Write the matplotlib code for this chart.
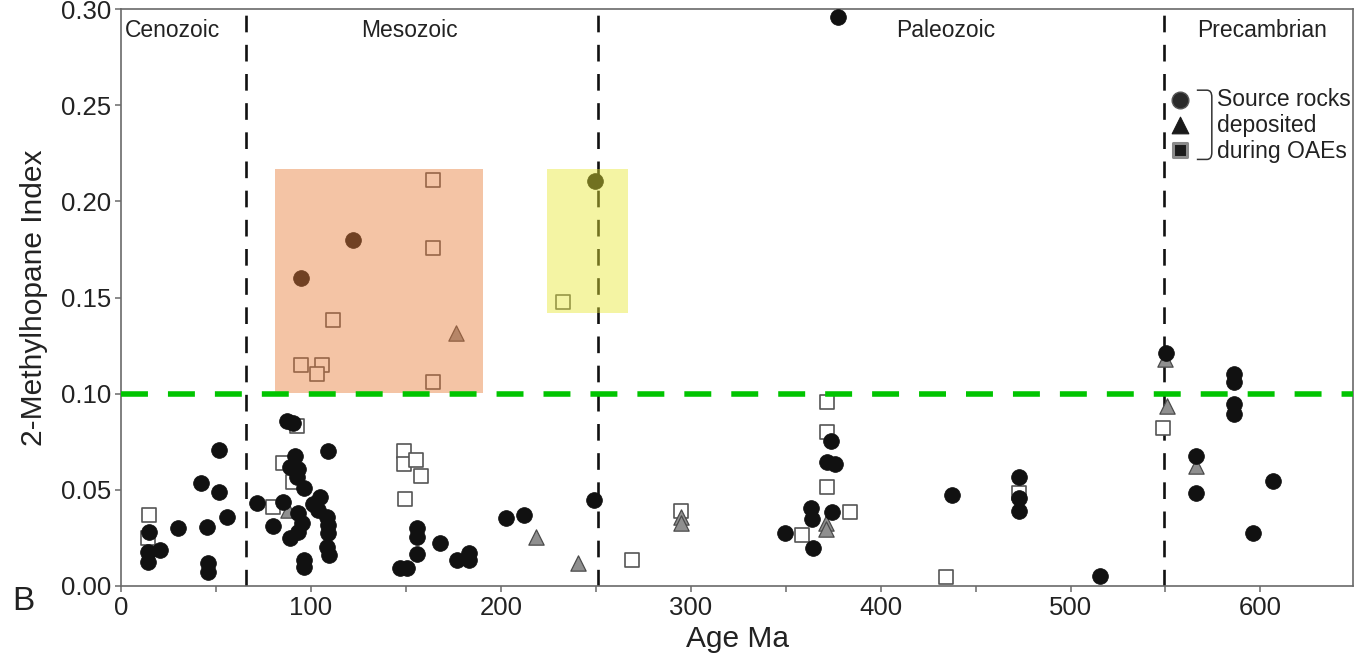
import matplotlib
matplotlib.use("Agg")
import matplotlib.pyplot as plt
from matplotlib.patches import Rectangle, PathPatch
from matplotlib.path import Path
from matplotlib.ticker import MultipleLocator

plt.rcParams['font.family'] = ['Liberation Sans', 'DejaVu Sans']
plt.rcParams['lines.scale_dashes'] = False

# ---------------- data ----------------
circle_x = [14.6, 14.1, 20.4, 14.1, 29.9, 42.0, 45.2, 45.7, 45.7, 51.5, 51.5, 55.7,
            71.5, 79.9, 85.2, 87.3, 90.5, 91.5, 88.9, 93.1, 92.6, 96.3, 93.1, 95.2,
            93.1, 88.9, 96.3, 96.3, 104.8, 101.1, 103.6, 108.4, 108.9, 108.9, 108.4,
            109.4, 108.9, 155.9, 155.9, 155.9, 146.8, 150.5, 167.9, 176.8, 183.1,
            183.1, 202.6, 212.1, 249.0, 373.8, 371.7, 375.9, 363.3, 363.8, 374.3,
            349.6, 364.3, 437.5, 472.8, 472.8, 472.8, 515.4, 550.2, 566.0, 566.0,
            586.0, 586.0, 586.0, 586.0, 606.5, 596.0, 122.1, 94.8, 249.5, 377.5]
circle_y = [0.0282, 0.0178, 0.0188, 0.0126, 0.0303, 0.0533, 0.0309, 0.0120, 0.0073,
            0.0706, 0.0491, 0.0361, 0.0429, 0.0314, 0.0439, 0.0858, 0.0847, 0.0675,
            0.0617, 0.0607, 0.0565, 0.0507, 0.0382, 0.0330, 0.0282, 0.0251, 0.0136,
            0.0099, 0.0465, 0.0424, 0.0397, 0.0361, 0.0319, 0.0277, 0.0204, 0.0162,
            0.0701, 0.0303, 0.0256, 0.0167, 0.0094, 0.0094, 0.0225, 0.0136, 0.0173,
            0.0136, 0.0356, 0.0371, 0.0445, 0.0753, 0.0643, 0.0633, 0.0403, 0.0350,
            0.0387, 0.0277, 0.0199, 0.0471, 0.0565, 0.0460, 0.0392, 0.0050, 0.1213,
            0.0675, 0.0486, 0.1104, 0.1062, 0.0947, 0.0894, 0.0544, 0.0277, 0.1799,
            0.1600, 0.2108, 0.2960]

square_x = [14.6, 14.1, 79.9, 92.6, 85.2, 90.5, 149.0, 149.0, 155.4, 158.0, 149.5,
            269.0, 294.8, 371.7, 371.7, 371.7, 383.8, 358.5, 434.3, 472.8, 548.6,
            164.2, 164.2, 111.5, 94.8, 105.8, 103.2, 164.2, 232.7]
square_y = [0.0371, 0.0250, 0.0413, 0.0832, 0.0638, 0.0539, 0.0701, 0.0633, 0.0654,
            0.0570, 0.0450, 0.0136, 0.0392, 0.0957, 0.0800, 0.0513, 0.0387, 0.0267,
            0.0047, 0.0486, 0.0821, 0.2113, 0.1757, 0.1381, 0.1151, 0.1151, 0.1104,
            0.1062, 0.1475]

triangle_x = [87.8, 218.4, 240.5, 294.8, 294.8, 371.2, 371.2, 549.7, 550.7, 566.0, 176.3]
triangle_y = [0.0397, 0.0256, 0.0120, 0.0361, 0.0330, 0.0325, 0.0295, 0.1182, 0.0936,
              0.0622, 0.1318]

era_names = ["Cenozoic", "Mesozoic", "Paleozoic", "Precambrian"]
era_label_x = [27, 152, 434, 601]
era_boundaries = [65.5, 251, 549]
threshold = 0.10

x_ticks = [0, 100, 200, 300, 400, 500, 600]
y_ticks = [0.00, 0.05, 0.10, 0.15, 0.20, 0.25, 0.30]

# highlighted regions: (x0, x1, y0, y1)
orange_box = (81.0, 190.6, 0.1004, 0.217)
yellow_box = (224.2, 266.9, 0.1417, 0.217)

# ---------------- figure ----------------
fig = plt.figure(figsize=(13.57, 6.59), dpi=100)
ax = fig.add_axes([0.0893, 0.1108, 0.9081, 0.8755])
ax.set_xlim(0, 649)
ax.set_ylim(0, 0.30)

txt = '#222222'
spine_c = '#6a6a6a'
for s in ax.spines.values():
    s.set_color(spine_c)
    s.set_linewidth(1.2)

# era boundaries
for b in era_boundaries:
    ax.axvline(b, color='#111111', lw=1.9, dashes=(12, 9), zorder=2)

# points
ax.scatter(square_x, square_y, marker='s', s=10.5**2, facecolor='white',
           edgecolor='#555555', linewidths=1.2, zorder=3)
ax.scatter(triangle_x, triangle_y, marker='^', s=11**2, facecolor='#8f8f8f',
           edgecolor='#4a4a4a', linewidths=0.9, zorder=3.1)
ax.scatter(circle_x, circle_y, marker='o', s=11.3**2, facecolor='#111111',
           edgecolor='#111111', linewidths=0.6, zorder=3.2)

# highlight boxes (translucent, drawn on top)
for (x0, x1, y0, y1), col in [(orange_box, (231/255, 124/255, 57/255)),
                              (yellow_box, (232/255, 232/255, 51/255))]:
    ax.add_patch(Rectangle((x0, y0), x1 - x0, y1 - y0, facecolor=col,
                           edgecolor='none', alpha=0.45, zorder=4))

# threshold line
ax.axhline(threshold, color='#00c400', lw=4.0, dashes=(19.4, 14.4),
           zorder=5)

# era labels
for name, xl in zip(era_names, era_label_x):
    ax.text(xl, 0.289, name, ha='center', va='center', fontsize=16.5,
            color=txt, zorder=6)

# legend (manual)
ax.scatter([557.6], [0.2526], marker='o', s=12**2, facecolor='#2a2a2a',
           edgecolor='#555555', linewidths=1.0, zorder=6, clip_on=False)
ax.scatter([557.6], [0.2395], marker='^', s=12**2, facecolor='#1a1a1a',
           edgecolor='#1a1a1a', linewidths=0.8, zorder=6, clip_on=False)
ax.scatter([557.6], [0.2265], marker='s', s=10.5**2, facecolor='#1a1a1a',
           edgecolor='#8a8a8a', linewidths=2.2, zorder=6, clip_on=False)
verts = [(566.5, 0.2578), (571.8, 0.2578), (574.4, 0.2578), (574.4, 0.2542),
         (574.4, 0.2254), (574.4, 0.2218), (571.8, 0.2218), (566.5, 0.2218)]
codes = [Path.MOVETO, Path.LINETO, Path.CURVE3, Path.CURVE3,
         Path.LINETO, Path.CURVE3, Path.CURVE3, Path.LINETO]
ax.add_patch(PathPatch(Path(verts, codes), facecolor='none', edgecolor='#333333',
                       lw=1.1, zorder=6))
ax.text(577.1, 0.2395, "Source rocks\ndeposited\nduring OAEs", ha='left',
        va='center', fontsize=16.5, linespacing=1.15, color=txt, zorder=6)

# ticks
ax.set_xticks(x_ticks)
ax.set_xticklabels([str(t) for t in x_ticks])
ax.xaxis.set_minor_locator(MultipleLocator(50))
ax.set_yticks(y_ticks)
ax.set_yticklabels([f"{t:.2f}" for t in y_ticks])
ax.tick_params(axis='both', which='both', direction='out', length=4.5, width=1.1,
               color=spine_c, labelsize=18.5, labelcolor=txt, pad=3)
ax.tick_params(axis='x', which='minor', length=4.5)
ax.tick_params(top=False, right=False)

ax.set_xlabel("Age Ma", fontsize=21.5, color=txt, labelpad=3)
ax.set_ylabel("2-Methylhopane Index", fontsize=21.5, color=txt, labelpad=9)

fig.text(23 / 1357, 1 - 601 / 659, "B", fontsize=24, color=txt,
         ha='center', va='center')

fig.savefig("out.png", dpi=100)
